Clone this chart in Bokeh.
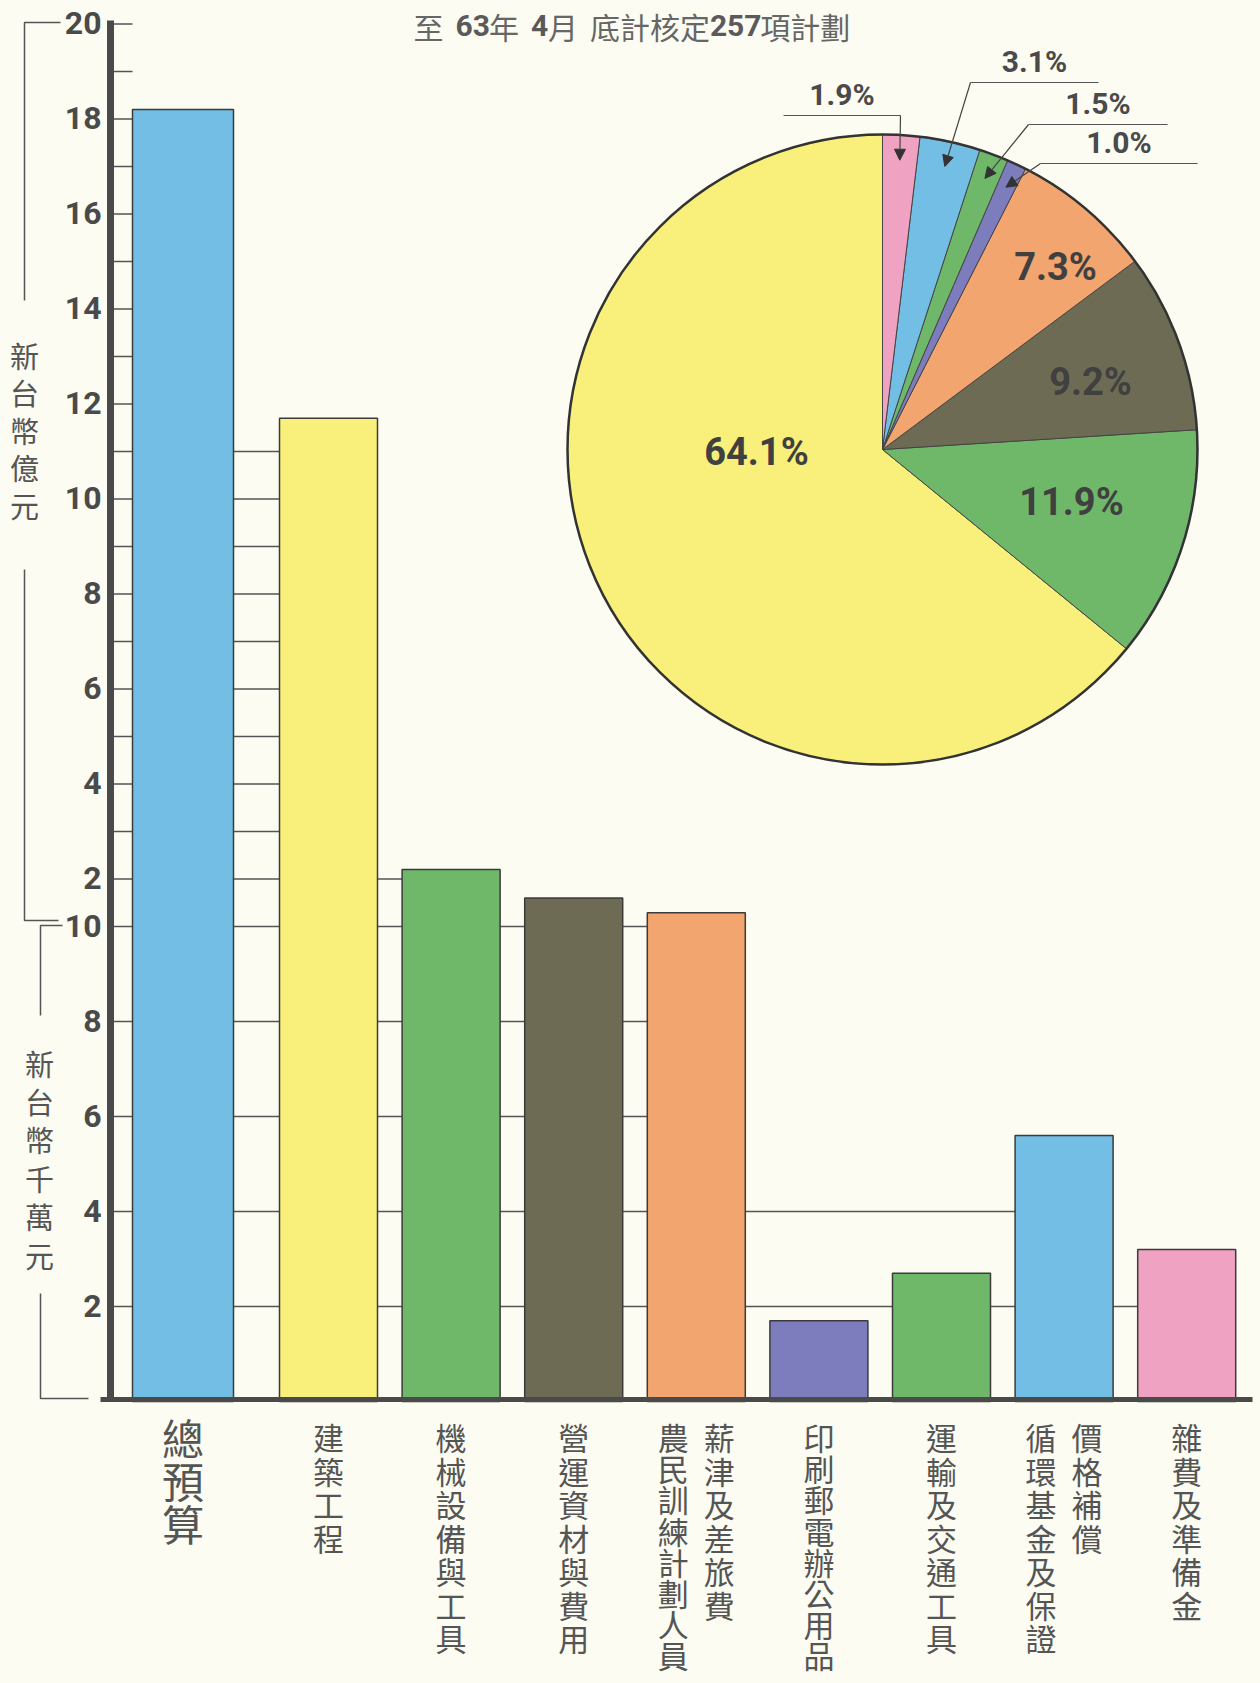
import math
from bokeh.plotting import figure
from bokeh.models import Range1d, ColumnDataSource, Arrow, NormalHead
from bokeh.core.properties import value
from bokeh.embed import file_html
from bokeh.resources import INLINE

# ---------------- data ----------------
title_parts = ["至", "63", "年", "4", "月", "底計核定", "257", "項計劃"]
title_bold = [False, True, False, True, False, False, True, False]

categories = ["總預算", "建築工程", "機械設備與工具", "營運資材與費用",
              "薪津及差旅費 農民訓練計劃人員", "印刷郵電辦公用品", "運輸及交通工具",
              "價格補償 循環基金及保證", "雜費及準備金"]
label_columns = [["總預算"], ["建築工程"], ["機械設備與工具"], ["營運資材與費用"],
                 ["薪津及差旅費", "農民訓練計劃人員"], ["印刷郵電辦公用品"],
                 ["運輸及交通工具"], ["價格補償", "循環基金及保證"], ["雜費及準備金"]]
# amounts in units of NT$ 10 million (千萬元)
amount_qianwan = [182, 117, 22, 16, 12.9, 1.7, 2.7, 5.6, 3.2]
bar_colors = ["#72bee5", "#f8f07a", "#6fb86a", "#6e6b55", "#f2a56e",
              "#7d7cbd", "#6fb86a", "#72bee5", "#f0a2c3"]

# pie: shares of the eight items (建築工程 ... 雜費及準備金)
pie_pct = [64.1, 11.9, 9.2, 7.3, 1.0, 1.5, 3.1, 1.9]
pie_labels = ["64.1%", "11.9%", "9.2%", "7.3%", "1.0%", "1.5%", "3.1%", "1.9%"]

upper_tick_labels = ["20", "18", "16", "14", "12", "10", "8", "6", "4", "2"]   # 億元
upper_tick_values = [20, 18, 16, 14, 12, 10, 8, 6, 4, 2]
lower_tick_labels = ["10", "8", "6", "4", "2"]                                # 千萬元
lower_tick_values = [10, 8, 6, 4, 2]
upper_unit = "新台幣億元"
lower_unit = "新台幣千萬元"

# ---------------- layout ----------------
W, H = 1260, 1683
Y0, K = 1401.0, 47.5           # pixel row of zero, pixels per display unit
BG = "#fcfcf2"
INK = "#4a4a4a"
CJK = value("Noto Sans CJK TC")
NUM = value("Roboto")


def ry(py):
    return (Y0 - py) / K


def disp_from_qianwan(v):
    # broken scale: 0-10 千萬 linear, above that each 億 (=10 千萬) is one unit
    return v if v <= 10 else 10 + (v - 10) / 10.0


def disp_from_yi(v):
    return disp_from_qianwan(v * 10)


p = figure(width=W, height=H, x_range=Range1d(0, W), y_range=Range1d(ry(H), ry(0)),
           output_backend="svg", toolbar_location=None, min_border=0,
           x_axis_type=None, y_axis_type=None,
           background_fill_color=BG, border_fill_color=BG, outline_line_color=None)

n = len(amount_qianwan)
centers = [182.5] + [328 + i * 122.6 for i in range(n - 1)]
widths = [101] + [98] * (n - 1)
tops = [disp_from_qianwan(v) for v in amount_qianwan]
AXIS_X = 110

# ---- grid lines (run from axis to the last bar reaching the level) ----
levels = [disp_from_yi(v) for v in range(1, 21)] + [disp_from_qianwan(v) for v in (2, 4, 6, 8)]
gx1 = []
for L in levels:
    reach = [i for i, t in enumerate(tops) if t >= L - 1e-9]
    gx1.append(centers[max(reach)] if reach else centers[0] - widths[0] / 2)
p.segment(x0=[AXIS_X] * len(levels), y0=levels, x1=gx1, y1=levels,
          line_color="#555555", line_width=1.4)

# ---- bars ----
src = ColumnDataSource(dict(x=centers, top=tops, w=widths, c=bar_colors, name=categories))
p.vbar(x="x", top="top", bottom=0, width="w", fill_color="c", line_color="#3b3b3b",
       line_width=1.5, source=src)

# ---- axis and baseline ----
p.segment(x0=[AXIS_X], y0=[ry(1401)], x1=[AXIS_X], y1=[ry(20)], line_color=INK, line_width=7)
p.segment(x0=[100], y0=[ry(1399)], x1=[1252], y1=[ry(1399)], line_color=INK, line_width=5)

# ---- tick labels ----
ty = [disp_from_yi(v) for v in upper_tick_values] + [disp_from_qianwan(v) for v in lower_tick_values]
p.text(x=[101] * len(ty), y=ty, text=upper_tick_labels + lower_tick_labels,
       text_align="right", text_baseline="middle", text_font=NUM, text_font_style="bold",
       text_font_size="32px", text_color=INK, y_offset=-1)

# ---- left unit brackets ----
p.multi_line(xs=[[60, 24, 24], [24, 24, 58], [62, 40, 40], [40, 40, 88]],
             ys=[[ry(22), ry(22), ry(300)], [ry(569), ry(920), ry(920)],
                 [ry(925), ry(925), ry(1015)], [ry(1293), ry(1398), ry(1398)]],
             line_color="#555555", line_width=1.5)


def vertical_text(txt, x, y_first, pitch, size, color="#555555"):
    p.text(x=[x] * len(txt), y=[ry(y_first + m * pitch) for m in range(len(txt))],
           text=list(txt), text_align="center", text_baseline="middle",
           text_font=CJK, text_font_size=size, text_color=color)


vertical_text(upper_unit, 24, 354, 37.6, "29px")
vertical_text(lower_unit, 39, 1062, 38.4, "29px")

# ---- category labels (vertical, columns right to left) ----
vx, vy, vt, vs = [], [], [], []
for i, cols in enumerate(label_columns):
    nc = len(cols)
    for k, col in enumerate(cols):
        off = (nc - 1) / 2 * 46 - k * 46
        size = "42px" if i == 0 else "31px"
        if i == 0:
            pitch = 43
        elif len(col) >= 8:
            pitch = 31.2
        else:
            pitch = 33.5
        for m, ch in enumerate(col):
            vx.append(centers[i] + off)
            vy.append(ry(1436 + m * pitch))
            vt.append(ch)
            vs.append(size)
p.text(x="x", y="y", text="t", text_font_size="s",
       source=ColumnDataSource(dict(x=vx, y=vy, t=vt, s=vs)),
       text_align="center", text_baseline="middle", text_font=CJK, text_color="#555555")

# ---- title (mixed CJK / bold digits) ----
CJK_T, NUM_T, GAP = 30, 30, 12
gap_after = [True, False, True, False, True, False, False, False]
TITLE_Y = 25
tx = 413
for part, bold, gap in zip(title_parts, title_bold, gap_after):
    if bold:
        p.text(x=[tx], y=[ry(TITLE_Y)], text=[part], text_align="left", text_baseline="middle",
               text_font=NUM, text_font_style="bold", text_font_size=f"{NUM_T}px",
               text_color="#5a5a5a")
        tx += 0.56 * NUM_T * len(part)
    else:
        p.text(x=[tx], y=[ry(TITLE_Y)], text=[part], text_align="left", text_baseline="middle",
               text_font=CJK, text_font_size=f"{CJK_T}px", text_color="#666666")
        tx += CJK_T * len(part)
    if gap:
        tx += GAP

# ---- pie ----
PCX, PCY, PR = 882, 449, 315
starts, ends, mids = [], [], []
cum = 0.0
for v in pie_pct:
    a0 = math.pi / 2 + 2 * math.pi * cum / 100
    cum += v
    a1 = math.pi / 2 + 2 * math.pi * cum / 100
    starts.append(a0)
    ends.append(a1)
    mids.append((a0 + a1) / 2)
p.wedge(x=[PCX] * len(pie_pct), y=[ry(PCY)] * len(pie_pct), radius=PR, radius_units="screen",
        start_angle=starts, end_angle=ends, fill_color=bar_colors[1:],
        line_color="#444444", line_width=1)
p.circle(x=[PCX], y=[ry(PCY)], radius=PR, radius_units="screen", fill_color=None,
         line_color="#333333", line_width=2.5)

# inside labels (big slices)
inside_pos = {0: (756, 451), 1: (1071, 501), 2: (1090, 381), 3: (1055, 266)}
p.text(x=[inside_pos[i][0] for i in inside_pos], y=[ry(inside_pos[i][1]) for i in inside_pos],
       text=[pie_labels[i] for i in inside_pos], text_align="center", text_baseline="middle",
       text_font=NUM, text_font_style="bold", text_font_size="38px", text_color="#404040")

# outside labels with leaders (small slices)
leader = {4: ((1040, 163), 1197), 5: ((1028, 124), 1167), 6: ((970, 82), 1098), 7: ((900, 115), 783)}
lx, ly, lt = [], [], []
hx, hy = [], []
for i, ((ex, ey), endx) in leader.items():
    tipx = PCX + 0.92 * PR * math.cos(mids[i])
    tipy = ry(PCY) + 0.92 * PR * math.sin(mids[i]) / K
    hx.append([endx, ex])
    hy.append([ry(ey), ry(ey)])
    p.add_layout(Arrow(end=NormalHead(size=11, fill_color="#333333", line_color="#333333", line_width=1),
                       x_start=ex, y_start=ry(ey), x_end=tipx, y_end=tipy,
                       line_color="#444444", line_width=1.2))
    lx.append((ex + endx) / 2)
    ly.append(ry(ey - 4))
    lt.append(pie_labels[i])
p.multi_line(xs=hx, ys=hy, line_color="#555555", line_width=1.2)
p.text(x=lx, y=ly, text=lt, text_align="center", text_baseline="bottom",
       text_font=NUM, text_font_style="bold", text_font_size="30px", text_color="#4a4a4a")

open("out.html", "w").write(file_html(p, INLINE))
